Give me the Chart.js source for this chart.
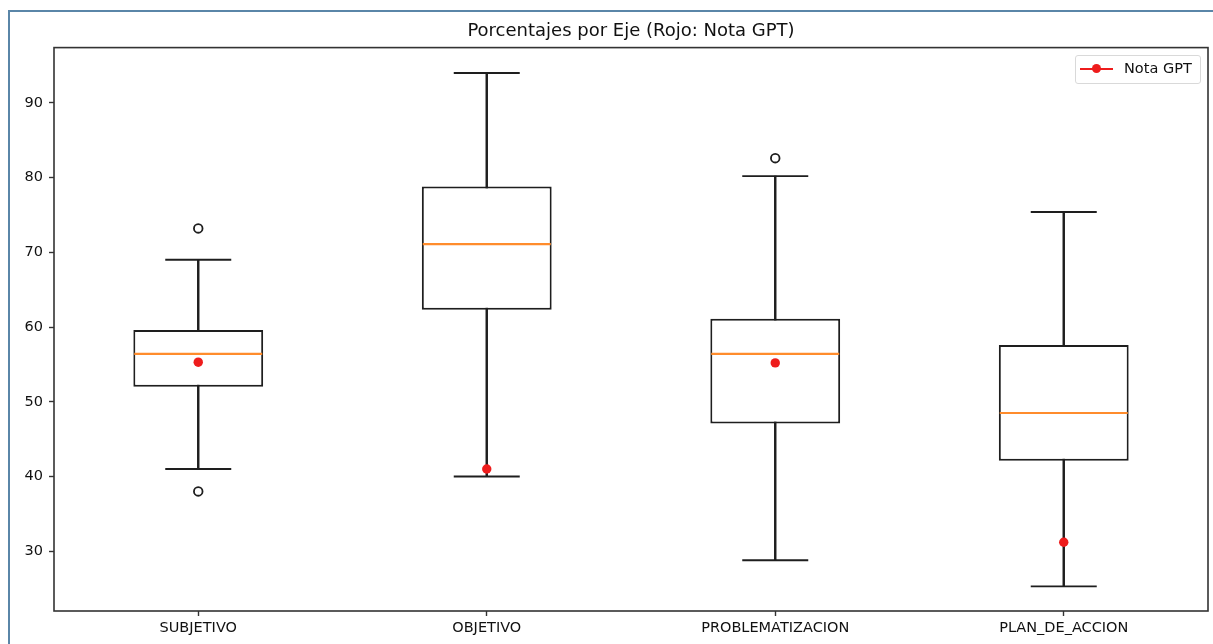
<!DOCTYPE html>
<html>
<head>
<meta charset="utf-8">
<script src="https://cdn.jsdelivr.net/npm/chart.js@4.4.1/dist/chart.umd.min.js"></script>
<style>
  html, body { margin: 0; padding: 0; background: #fff; }
  #wrap { position: relative; width: 1213px; height: 644px; overflow: hidden; }
  #frame { position: absolute; left: 8px; top: 10px; width: 1300px; height: 700px;
           border-top: 2px solid #5a86a8; border-left: 2px solid #5a86a8; pointer-events: none; }
  #legend { position: absolute; left: 1075px; top: 55px; width: 124px; height: 27px;
            border: 1px solid #d9d9d9; border-radius: 3px; background: rgba(255,255,255,0.85);
            font-family: "DejaVu Sans", sans-serif; font-size: 14.5px; color: #111; }
  #legend .ln { position: absolute; left: 4px; top: 12px; width: 33px; height: 2px; background: #ee1c1c; }
  #legend .dt { position: absolute; left: 16px; top: 8px; width: 9px; height: 9px; border-radius: 50%; background: #ee1c1c; }
  #legend .tx { position: absolute; left: 48px; top: 4px; white-space: nowrap; }
</style>
</head>
<body>
<div id="wrap">
  <canvas id="c" width="1213" height="644"></canvas>
  <div id="frame"></div>
  <div id="legend"><span class="ln"></span><span class="dt"></span><span class="tx">Nota GPT</span></div>
</div>
<script>
const categories  = ['SUBJETIVO', 'OBJETIVO', 'PROBLEMATIZACION', 'PLAN_DE_ACCION'];
const whiskerLow  = [41.0, 40.0, 28.8, 25.3];
const q1          = [52.0, 62.3, 47.1, 42.1];
const median      = [56.4, 71.1, 56.4, 48.5];
const q3          = [59.6, 78.8, 61.1, 57.6];
const whiskerHigh = [69.0, 94.0, 80.2, 75.4];
const outliers    = [[73.2, 38.0], [], [82.6], []];
const notaGPT     = [55.3, 41.0, 55.2, 31.2];
const yTicks      = [30, 40, 50, 60, 70, 80, 90];
const yMin = 22.0, yMax = 97.4;

const outlierPoints = [];
outliers.forEach((arr, i) => arr.forEach(v => outlierPoints.push({ x: categories[i], y: v })));

const INK = '#1e1e1e';

const framePlugin = {
  id: 'frame',
  afterDraw(chart) {
    const a = chart.chartArea, ctx = chart.ctx;
    ctx.save();
    ctx.strokeStyle = '#333333';
    ctx.lineWidth = 1.6;
    ctx.strokeRect(a.left, a.top, a.right - a.left, a.bottom - a.top);
    ctx.restore();
  }
};

new Chart(document.getElementById('c'), {
  type: 'bar',
  data: {
    labels: categories,
    datasets: [
      {
        type: 'bar', label: 'whiskers',
        data: categories.map((_, i) => [whiskerLow[i], whiskerHigh[i]]),
        backgroundColor: INK, borderWidth: 0, barThickness: 1.8, grouped: false, order: 5
      },
      {
        type: 'bar', label: 'box',
        data: categories.map((_, i) => [q1[i], q3[i]]),
        backgroundColor: '#ffffff', borderColor: INK, borderWidth: 2, borderSkipped: false,
        barPercentage: 0.45, categoryPercentage: 1.0, grouped: false, order: 4
      },
      {
        type: 'line', label: 'median', data: median, showLine: false,
        pointStyle: 'line', pointRadius: 64, pointBorderWidth: 2.2, pointBorderColor: '#ff8c2c', order: 3
      },
      {
        type: 'line', label: 'capLow', data: whiskerLow, showLine: false,
        pointStyle: 'line', pointRadius: 33, pointBorderWidth: 1.9, pointBorderColor: INK, order: 3
      },
      {
        type: 'line', label: 'capHigh', data: whiskerHigh, showLine: false,
        pointStyle: 'line', pointRadius: 33, pointBorderWidth: 1.9, pointBorderColor: INK, order: 3
      },
      {
        type: 'line', label: 'outliers', data: outlierPoints, showLine: false,
        pointStyle: 'circle', pointRadius: 4.3, pointBorderWidth: 1.8,
        pointBorderColor: INK, pointBackgroundColor: '#ffffff', order: 2
      },
      {
        type: 'line', label: 'Nota GPT', data: notaGPT, showLine: false,
        pointStyle: 'circle', pointRadius: 4.7, pointBorderWidth: 0,
        pointBackgroundColor: '#ee1c1c', pointBorderColor: '#ee1c1c', order: 1
      }
    ]
  },
  options: {
    responsive: false,
    animation: false,
    devicePixelRatio: 1,
    events: [],
    layout: { autoPadding: false, padding: { left: 0, right: 5, top: 0, bottom: 0 } },
    plugins: {
      legend: { display: false },
      tooltip: { enabled: false },
      title: {
        display: true,
        fullSize: false,
        text: 'Porcentajes por Eje (Rojo: Nota GPT)',
        color: '#111111',
        font: { family: 'DejaVu Sans', size: 18, weight: 'normal' },
        padding: { top: 21, bottom: 5 }
      }
    },
    scales: {
      x: {
        offset: true,
        grid: { display: true, drawOnChartArea: false, offset: false, tickLength: 5, tickColor: '#333333', tickWidth: 1.4 },
        border: { display: false },
        ticks: { color: '#111111', padding: 4, font: { family: 'DejaVu Sans', size: 14.5 }, maxRotation: 0, autoSkip: false },
        afterFit(scale) { scale.height = 33; }
      },
      y: {
        min: yMin, max: yMax,
        grid: { display: true, drawOnChartArea: false, tickLength: 5, tickColor: '#333333', tickWidth: 1.4 },
        border: { display: false },
        ticks: { color: '#111111', padding: 6, font: { family: 'DejaVu Sans', size: 14.5 } },
        afterBuildTicks(scale) { scale.ticks = yTicks.map(v => ({ value: v })); },
        afterFit(scale) { scale.width = 54; }
      }
    }
  },
  plugins: [framePlugin]
});
</script>
</body>
</html>
